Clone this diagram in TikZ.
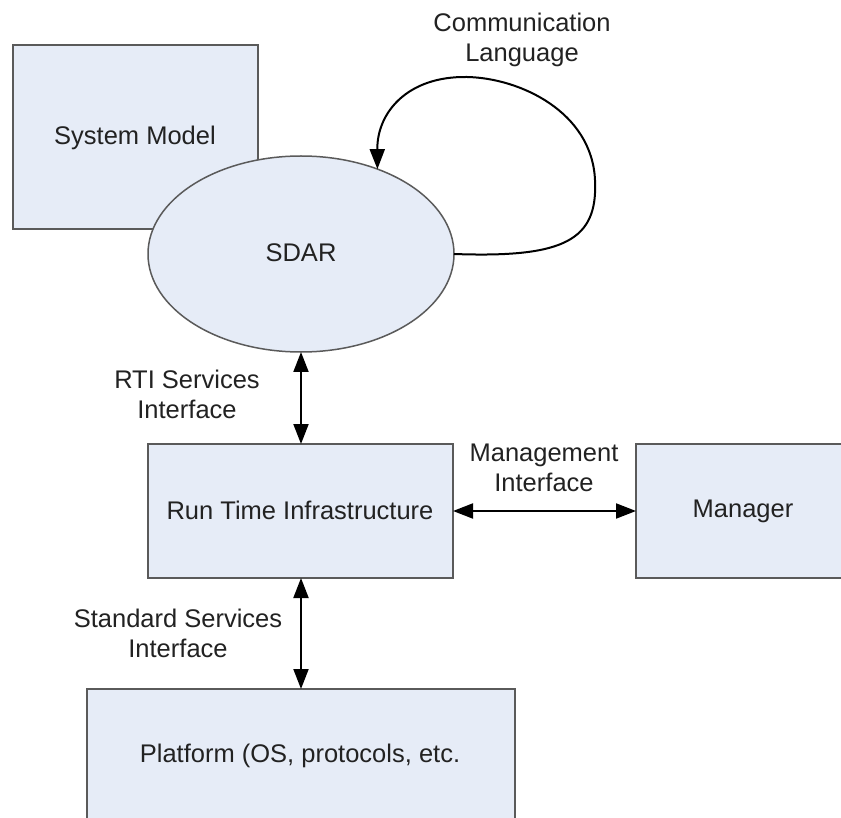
\documentclass[tikz,border=0pt]{standalone}
\usepackage{fontspec}
\setmainfont{Liberation Sans}
\usetikzlibrary{arrows.meta,shapes.geometric}
\definecolor{boxfill}{HTML}{E6ECF7}
\definecolor{boxline}{HTML}{5A5A5A}
\definecolor{txt}{HTML}{222222}
\tikzset{
  blk/.style={draw=boxline, line width=1.5pt, fill=boxfill},
  lbl/.style={text=txt, align=center, inner sep=0pt,
    font=\fontsize{25.5}{30}\selectfont},
  link/.style={line width=2pt, {Triangle[length=20pt,width=15pt]}-{Triangle[length=20pt,width=15pt]}},
  loop/.style={line width=2pt, -{Triangle[length=20pt,width=15pt]}}
}
\begin{document}
\begin{tikzpicture}[x=1pt,y=-1pt]
\useasboundingbox (0,0) rectangle (841,818);
\fill[white] (0,0) rectangle (841,818);
\clip (0,0) rectangle (841,818);

% blocks (Manager and Platform run past the page edges)
\draw[blk] (13,45) rectangle (258,229);
\node[lbl] (sysm) at (135,138) {System Model};

\node[blk, ellipse, minimum width=306pt, minimum height=196pt, inner sep=0pt, outer sep=0pt]
  (sdar) at (301,254) {};
\node[lbl] at (301,253) {SDAR};

\draw[blk] (148,444) rectangle (453,578);
\coordinate (rtiN) at (301,444);
\coordinate (rtiS) at (301,578);
\coordinate (rtiE) at (453,511);
\node[lbl] (rtit) at (300,510) {Run Time Infrastructure};

\draw[blk] (636,444) rectangle (900,578);
\coordinate (mgrW) at (636,511);
\node[lbl] (mgrt) at (743,511) {Manager};

\draw[blk] (87,689) rectangle (515,900);
\coordinate (platN) at (301,689);
\node[lbl] (platt) at (300,756) {Platform (OS, protocols, etc.};

% connectors
\draw[link] (sdar.south) -- (rtiN);
\draw[link] (rtiE) -- (mgrW);
\draw[link] (rtiS) -- (platN);
\draw[loop] (sdar.east) .. controls (565,258) and (598,240) .. (595,180)
  .. controls (592,112) and (520,78) .. (467,77)
  .. controls (408,76) and (377,112) .. (sdar.48);

% labels
\node[lbl] (lcomm) at (522,40) {Communication\\Language};
\node[lbl] (lrti) at (187,394) {RTI Services\\Interface};
\node[lbl] (lmgmt) at (544,468) {Management\\Interface};
\node[lbl] (lstd) at (178,633) {Standard Services\\Interface};
\end{tikzpicture}
\end{document}
